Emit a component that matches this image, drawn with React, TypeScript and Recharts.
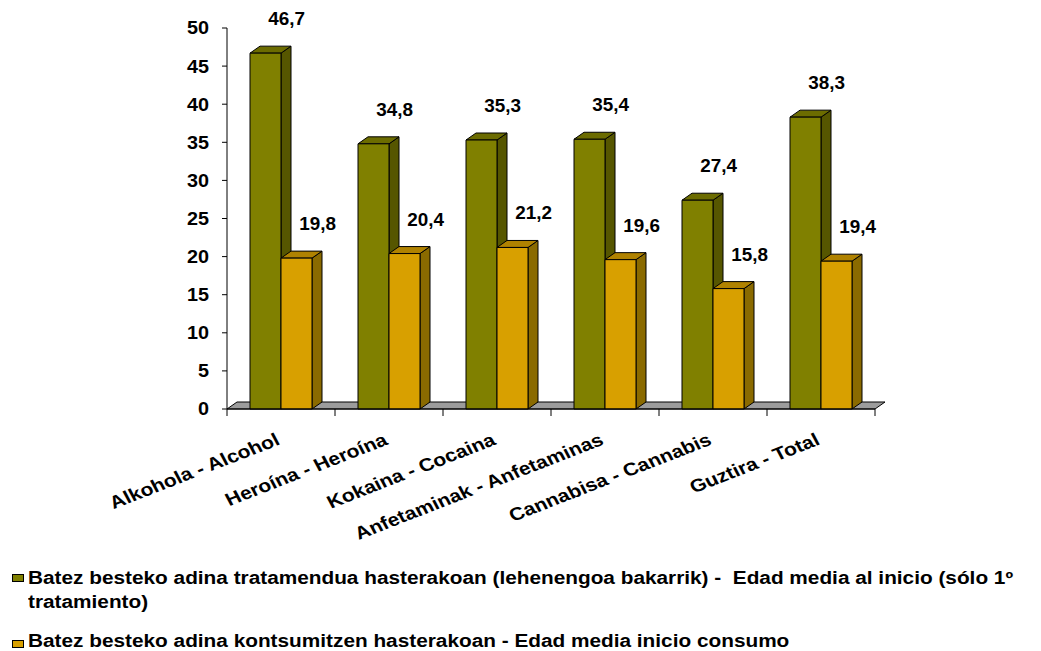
import React from "react"
import { BarChart, Bar, XAxis, YAxis, LabelList, ReferenceArea, Legend } from "recharts"

const categories = [
  "Alkohola - Alcohol",
  "Heroína - Heroína",
  "Kokaina - Cocaina",
  "Anfetaminak - Anfetaminas",
  "Cannabisa - Cannabis",
  "Guztira - Total",
]
const edadTratamiento = [46.7, 34.8, 35.3, 35.4, 27.4, 38.3]
const edadConsumo = [19.8, 20.4, 21.2, 19.6, 15.8, 19.4]
const yTicks = [0, 5, 10, 15, 20, 25, 30, 35, 40, 45, 50]

const serieTratamiento =
  "Batez besteko adina tratamendua hasterakoan (lehenengoa bakarrik) -  Edad media al inicio (sólo 1º"
const serieTratamiento2 = "tratamiento)"
const serieConsumo = "Batez besteko adina kontsumitzen hasterakoan - Edad media inicio consumo"

const data = categories.map((name, i) => ({
  name,
  tratamiento: edadTratamiento[i],
  consumo: edadConsumo[i],
}))

const FONT = "'Liberation Sans', Arial, sans-serif"
const DX = 10
const DY = 7

const GREEN = { front: "#808000", top: "#6c6c00", side: "#565600" }
const GOLD = { front: "#d8a000", top: "#b08200", side: "#8a6a00" }

// bar with fake 3d depth
const Box = (props: any) => {
  const { x, y, width: w, height: h, colors } = props
  if (h == null || w == null) return null
  return (
    <g stroke="#000" strokeWidth={1} strokeLinejoin="round">
      <polygon
        points={`${x + w},${y} ${x + w + DX},${y - DY} ${x + w + DX},${y + h - DY} ${x + w},${y + h}`}
        fill={colors.side}
      />
      <polygon
        points={`${x},${y} ${x + DX},${y - DY} ${x + w + DX},${y - DY} ${x + w},${y}`}
        fill={colors.top}
      />
      <rect x={x} y={y} width={w} height={h} fill={colors.front} />
    </g>
  )
}

const Floor = (props: any) => {
  const { x, y, width: w, height: h } = props
  const b = y + h
  return (
    <polygon
      points={`${x},${b} ${x + DX},${b - DY} ${x + w + DX},${b - DY} ${x + w},${b}`}
      fill="#9c9c9c"
      stroke="#000"
      strokeWidth={1}
    />
  )
}

const ValueLabel = (props: any) => {
  const { x, y, width, value } = props
  const cx = x + width / 2 + 21
  const by = y - 28
  return (
    <g transform={`translate(${cx},${by}) scale(1.05,1)`}>
      <text x={0} y={0} textAnchor="middle" fontFamily={FONT} fontWeight="bold" fontSize={18} fill="#000">
        {Number(value).toFixed(1).replace(".", ",")}
      </text>
    </g>
  )
}

const YTick = (props: any) => {
  const { x, y, payload } = props
  return (
    <g transform={`translate(${x},${y}) scale(1.1,1)`}>
      <text x={0} y={0} dy="0.36em" textAnchor="end" fontFamily={FONT} fontWeight="bold" fontSize={18} fill="#000">
        {payload.value}
      </text>
    </g>
  )
}

const XTick = (props: any) => {
  const { x, y, payload, index } = props
  const half = 54
  return (
    <g>
      <line x1={x - half} y1={y} x2={x - half} y2={y + 7} stroke="#000" />
      {index === categories.length - 1 && <line x1={x + half} y1={y} x2={x + half} y2={y + 7} stroke="#000" />}
      <g transform={`translate(${x},${y + 35}) scale(1.17,1) rotate(-24.5)`}>
        <text x={0} y={0} textAnchor="end" fontFamily={FONT} fontWeight="bold" fontSize={18} fill="#000">
          {payload.value}
        </text>
      </g>
    </g>
  )
}

const textStyle: React.CSSProperties = {
  position: "absolute",
  left: 28,
  fontFamily: FONT,
  fontWeight: "bold",
  fontSize: 18,
  lineHeight: "18px",
  whiteSpace: "pre",
  transform: "scaleX(1.155)",
  transformOrigin: "left",
  color: "#000",
}

const LegendBox = () => (
  <div style={{ position: "relative", width: 1041, height: 90 }}>
    <div style={{ position: "absolute", left: 12, top: 13, width: 10, height: 6, border: "1px solid #000", background: GREEN.front }} />
    <div style={{ ...textStyle, top: 8 }}>{serieTratamiento}</div>
    <div style={{ ...textStyle, top: 32 }}>{serieTratamiento2}</div>
    <div style={{ position: "absolute", left: 12, top: 79, width: 10, height: 6, border: "1px solid #000", background: GOLD.front }} />
    <div style={{ ...textStyle, top: 71 }}>{serieConsumo}</div>
  </div>
)

export default function App() {
  return (
    <div style={{ position: "absolute", left: 0, top: 0, width: 1041, height: 651, background: "#fff" }}>
      <BarChart
        width={1041}
        height={651}
        data={data}
        margin={{ top: 28, right: 166, left: 0, bottom: 0 }}
        barSize={31}
        barGap={0}
      >
        <XAxis
          dataKey="name"
          height={152}
          interval={0}
          tickLine={false}
          tickSize={0}
          tickMargin={0}
          axisLine={{ stroke: "#000" }}
          tick={<XTick />}
        />
        <YAxis
          width={227}
          domain={[0, 50]}
          ticks={yTicks}
          interval={0}
          tickSize={5}
          tickMargin={13}
          axisLine={{ stroke: "#000" }}
          tickLine={{ stroke: "#000" }}
          tick={<YTick />}
        />
        <ReferenceArea y1={0} y2={1} ifOverflow="visible" shape={<Floor />} />
        <Bar dataKey="tratamiento" isAnimationActive={false} shape={(p: any) => <Box {...p} colors={GREEN} />}>
          <LabelList dataKey="tratamiento" content={<ValueLabel />} />
        </Bar>
        <Bar dataKey="consumo" isAnimationActive={false} shape={(p: any) => <Box {...p} colors={GOLD} />}>
          <LabelList dataKey="consumo" content={<ValueLabel />} />
        </Bar>
        <Legend
          verticalAlign="bottom"
          content={<LegendBox />}
          wrapperStyle={{ left: 0, top: 561, bottom: "auto", width: 1041, height: 90 }}
        />
      </BarChart>
    </div>
  )
}
